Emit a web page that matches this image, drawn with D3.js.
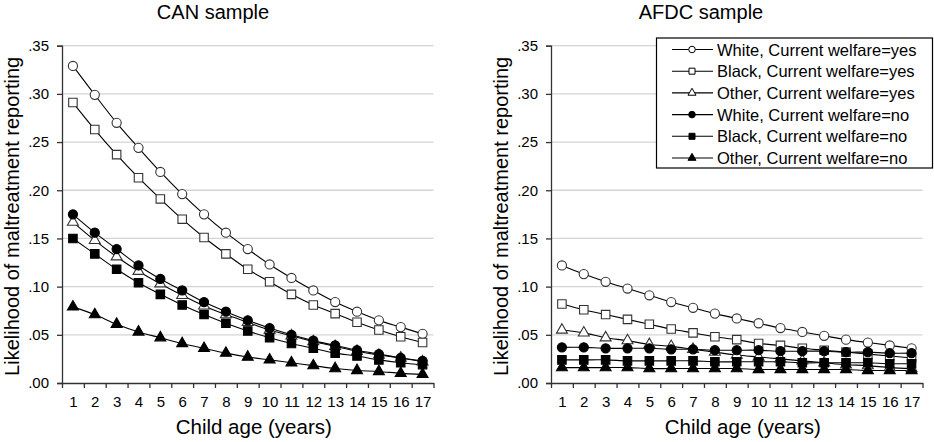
<!DOCTYPE html>
<html><head><meta charset="utf-8">
<script src="https://cdn.jsdelivr.net/npm/d3@7"></script>
<style>body{margin:0;background:#fff}svg{display:block;font-family:"Liberation Sans",Arial,sans-serif}</style>
</head><body><svg id="c" width="934" height="442"></svg>
<script>
const ages = d3.range(1, 18);
const yTicks = [0, .05, .10, .15, .20, .25, .30, .35];
const seriesNames = ["White, Current welfare=yes","Black, Current welfare=yes","Other, Current welfare=yes","White, Current welfare=no","Black, Current welfare=no","Other, Current welfare=no"];
const seriesMarkers = ["circle","square","triangle","circle","square","triangle"];
const seriesFilled = [false,false,false,true,true,true];
const panelTitles = ["CAN sample","AFDC sample"];

// CAN sample
const canWhiteYes = [.329,.299,.270,.244,.219,.196,.175,.156,.139,.123,.109,.096,.084,.074,.065,.058,.051];
const canBlackYes = [.291,.263,.237,.213,.191,.170,.151,.134,.118,.105,.092,.081,.072,.063,.055,.048,.042];
const canOtherYes = [.167,.148,.131,.116,.103,.091,.080,.071,.063,.055,.049,.043,.038,.033,.029,.026,.022];
const canWhiteNo  = [.175,.156,.139,.122,.108,.096,.084,.074,.065,.057,.050,.044,.039,.034,.030,.026,.023];
const canBlackNo  = [.150,.134,.118,.104,.092,.081,.071,.062,.054,.047,.041,.036,.031,.028,.024,.021,.019];
const canOtherNo  = [.079,.071,.061,.053,.047,.041,.036,.031,.027,.024,.021,.018,.015,.013,.012,.010,.009];
// AFDC sample
const afdcWhiteYes = [.122,.113,.105,.098,.091,.084,.078,.072,.067,.062,.057,.053,.049,.045,.042,.039,.036];
const afdcBlackYes = [.082,.076,.071,.066,.061,.056,.052,.048,.045,.041,.039,.036,.034,.032,.030,.028,.026];
const afdcOtherYes = [.055,.052,.047,.044,.040,.038,.035,.032,.029,.027,.025,.023,.021,.019,.018,.016,.015];
const afdcWhiteNo  = [.037,.037,.036,.036,.036,.035,.035,.034,.034,.034,.033,.033,.033,.032,.032,.031,.031];
const afdcBlackNo  = [.024,.024,.024,.023,.023,.023,.023,.022,.022,.022,.022,.021,.021,.021,.021,.020,.020];
const afdcOtherNo  = [.016,.016,.016,.016,.015,.015,.015,.015,.015,.014,.014,.014,.014,.014,.013,.013,.013];

const panels = [
  {title: panelTitles[0], left: 62, titleX: 213, series: [canWhiteYes,canBlackYes,canOtherYes,canWhiteNo,canBlackNo,canOtherNo]},
  {title: panelTitles[1], left: 551, titleX: 701, series: [afdcWhiteYes,afdcBlackYes,afdcOtherYes,afdcWhiteNo,afdcBlackNo,afdcOtherNo]}
];

const svg = d3.select("#c");
const plotW = 371.5, plotTop = 45.7, plotBottom = 383;
const axisColor = "#333";

function symbolPath(type, size) {
  const t = type === "circle" ? d3.symbolCircle : type === "square" ? d3.symbolSquare : d3.symbolTriangle;
  return d3.symbol().type(t).size(size)();
}

panels.forEach((p, pi) => {
  const g = svg.append("g");
  const x = d3.scaleLinear().domain([0.5, 17.5]).range([p.left, p.left + plotW]);
  const y = d3.scaleLinear().domain([0, .35]).range([plotBottom, plotTop]);

  // gridlines
  g.append("g").selectAll("line").data(yTicks.slice(1)).join("line")
    .attr("x1", p.left).attr("x2", p.left + plotW)
    .attr("y1", d => y(d)).attr("y2", d => y(d))
    .attr("stroke", "#d4d4d4").attr("stroke-width", 1.3);

  // y axis
  const ya = g.append("g").attr("transform", `translate(${p.left},0)`)
    .call(d3.axisLeft(y).tickValues(yTicks).tickSize(5).tickPadding(8)
      .tickFormat(d => d3.format(".2f")(d).replace(/^0/, "")));
  ya.select(".domain").attr("stroke", axisColor).attr("stroke-width", 1.3);
  ya.selectAll(".tick line").attr("stroke", axisColor).attr("stroke-width", 1.3);
  ya.selectAll("text").attr("font-size", 15).attr("fill", "#000").attr("font-family", "Liberation Sans, Arial, sans-serif");

  // x axis ticks at boundaries
  const xa = g.append("g").attr("transform", `translate(0,${plotBottom})`)
    .call(d3.axisBottom(x).tickValues(d3.range(0.5, 18, 1)).tickSize(5).tickFormat("").tickSizeOuter(0));
  xa.select(".domain").attr("stroke", axisColor).attr("stroke-width", 1.3);
  xa.selectAll(".tick line").attr("stroke", axisColor).attr("stroke-width", 1.3);
  const xl = g.append("g").attr("transform", `translate(0,${plotBottom})`)
    .call(d3.axisBottom(x).tickValues(ages).tickSize(0).tickPadding(13).tickFormat(d3.format("d")));
  xl.select(".domain").remove();
  xl.selectAll("text").attr("font-size", 15).attr("fill", "#000").attr("font-family", "Liberation Sans, Arial, sans-serif");

  // titles
  g.append("text").attr("x", p.titleX).attr("y", 19).attr("text-anchor", "middle")
    .attr("font-size", 20).text(p.title);
  g.append("text").attr("x", p.left + plotW / 2 + 6).attr("y", 434).attr("text-anchor", "middle")
    .attr("font-size", 20.5).text("Child age (years)");
  g.append("text").attr("transform", `translate(${p.left - 43},${(plotTop + plotBottom) / 2 + 2}) rotate(-90)`)
    .attr("text-anchor", "middle").attr("font-size", 20).text("Likelihood of maltreatment reporting");

  // series
  const line = d3.line().x((d, i) => x(ages[i])).y(d => y(d)).curve(d3.curveCatmullRom);
  p.series.forEach((vals, si) => {
    g.append("path").attr("d", line(vals)).attr("fill", "none").attr("stroke", "#000").attr("stroke-width", 1.1);
  });
  p.series.forEach((vals, si) => {
    const sz = seriesMarkers[si] === "circle" ? 66 : seriesMarkers[si] === "square" ? 72 : 52;
    g.append("g").selectAll("path").data(vals).join("path")
      .attr("transform", (d, i) => `translate(${x(ages[i])},${y(d)})`)
      .attr("d", symbolPath(seriesMarkers[si], sz))
      .attr("fill", seriesFilled[si] ? "#000" : "#fff")
      .attr("stroke", seriesFilled[si] ? "#000" : "#333").attr("stroke-width", 1.1);
  });
});

// legend
const lg = svg.append("g");
lg.append("rect").attr("x", 656.5).attr("y", 38).attr("width", 276).attr("height", 130)
  .attr("fill", "#fff").attr("stroke", "#000").attr("stroke-width", 1.2);
seriesNames.forEach((name, i) => {
  const cy = 49.5 + i * 21.7;
  lg.append("line").attr("x1", 672).attr("x2", 713).attr("y1", cy).attr("y2", cy).attr("stroke", "#000").attr("stroke-width", 1.1);
  const sz = seriesMarkers[i] === "circle" ? 34 : seriesMarkers[i] === "square" ? 36 : 28;
  lg.append("path").attr("transform", `translate(692,${cy})`).attr("d", symbolPath(seriesMarkers[i], sz))
    .attr("fill", seriesFilled[i] ? "#000" : "#fff").attr("stroke", "#000").attr("stroke-width", 1);
  lg.append("text").attr("x", 717).attr("y", cy + 6).attr("font-size", 16.5).text(name);
});
</script></body></html>
